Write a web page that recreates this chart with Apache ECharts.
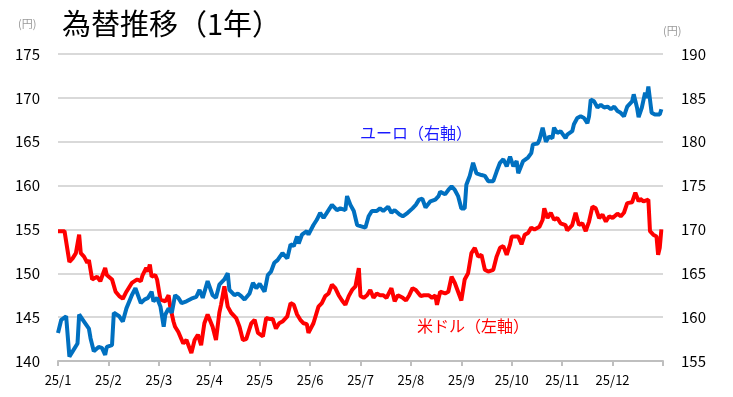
<!DOCTYPE html>
<html>
<head>
<meta charset="utf-8">
<script src="https://cdn.jsdelivr.net/npm/echarts@6/dist/echarts.min.js"></script>
<style>
  html, body { margin: 0; padding: 0; background: #fff; }
  #chart { width: 733px; height: 397px; }
</style>
</head>
<body>
<div id="chart"></div>
<script>
// 2025年 月/日
var monthLabels = ['25/1', '25/2', '25/3', '25/4', '25/5', '25/6', '25/7', '25/8', '25/9', '25/10', '25/11', '25/12']

// 米ドル（左軸）
var usdDates = [
  '1/1', '1/5', '1/8', '1/10', '1/12', '1/14', '1/15', '1/17', '1/19', '1/20', '1/22', '1/23', '1/25', '1/27', '1/30', '1/31',
  '2/3', '2/5', '2/7', '2/9', '2/11', '2/14', '2/17', '2/19', '2/20', '2/22', '2/23', '2/24', '2/25', '2/27', '2/28',
  '3/2', '3/5', '3/7', '3/8', '3/10', '3/11', '3/13', '3/16', '3/18', '3/21', '3/23', '3/25', '3/27', '3/29', '3/31',
  '4/3', '4/5', '4/7', '4/8', '4/10', '4/12', '4/14', '4/17', '4/19', '4/21', '4/23', '4/26', '4/28', '4/30',
  '5/3', '5/5', '5/7', '5/9', '5/11', '5/13', '5/15', '5/18', '5/20', '5/22', '5/24', '5/26', '5/28', '5/30', '5/31',
  '6/3', '6/6', '6/8', '6/10', '6/12', '6/14', '6/16', '6/18', '6/20', '6/22', '6/24', '6/26', '6/28', '6/30',
  '7/1', '7/3', '7/5', '7/7', '7/9', '7/11', '7/13', '7/15', '7/17', '7/20', '7/22', '7/24', '7/27', '7/29', '7/31',
  '8/2', '8/4', '8/7', '8/9', '8/12', '8/14', '8/16', '8/17', '8/19', '8/22', '8/24', '8/26', '8/28', '8/30',
  '9/1', '9/3', '9/5', '9/7', '9/9', '9/11', '9/13', '9/15', '9/17', '9/20', '9/22', '9/24', '9/26', '9/28', '9/30',
  '10/1', '10/3', '10/5', '10/7', '10/9', '10/11', '10/13', '10/15', '10/18', '10/20', '10/21', '10/23', '10/25', '10/27', '10/29', '10/31',
  '11/3', '11/4', '11/7', '11/9', '11/11', '11/13', '11/15', '11/17', '11/19', '11/21', '11/23', '11/25', '11/27', '11/29',
  '12/1', '12/4', '12/6', '12/8', '12/10', '12/13', '12/15', '12/17', '12/18', '12/20', '12/23', '12/24', '12/26', '12/28', '12/29', '12/30', '12/31'
]
var usdValues = [
  154.8, 154.8, 151.3, 151.7, 152.3, 154.4, 152.3, 151.9, 151.2, 151.5, 149.3, 149.1, 149.6, 149.1, 150.6, 149.8,
  149.3, 147.9, 147.4, 147.1, 147.9, 148.9, 149.3, 149.1, 149.8, 150.6, 150.2, 151.0, 149.6, 149.8, 149.3,
  147.0, 146.8, 147.5, 146.2, 144.5, 143.9, 143.3, 142.0, 142.4, 140.9, 142.4, 143.0, 141.8, 144.3, 145.3,
  143.9, 142.4, 145.5, 146.4, 148.5, 146.2, 145.5, 144.9, 143.9, 142.4, 142.5, 144.3, 144.7, 143.2,
  142.8, 144.9, 144.8, 144.8, 143.7, 144.3, 144.5, 145.1, 146.6, 146.4, 145.3, 144.7, 144.3, 144.2, 143.2,
  144.3, 146.2, 146.6, 147.4, 147.7, 148.7, 148.3, 147.5, 146.9, 146.4, 147.4, 148.1, 148.5, 150.6,
  147.4, 147.2, 147.5, 148.1, 147.2, 147.7, 147.5, 147.5, 147.2, 148.3, 146.8, 147.5, 147.2, 146.9, 147.5,
  148.3, 148.1, 147.4, 147.5, 147.5, 147.2, 147.5, 146.4, 147.9, 147.7, 147.9, 149.6, 148.9, 147.9,
  146.9, 149.3, 150.0, 152.3, 152.9, 151.9, 152.1, 150.4, 150.2, 150.4, 151.9, 152.9, 153.1, 152.1, 153.3,
  154.2, 154.2, 154.2, 153.3, 154.4, 154.6, 155.2, 155.0, 155.3, 156.1, 157.4, 156.3, 156.9, 156.1, 156.3, 155.7,
  155.5, 154.9, 155.5, 156.9, 155.5, 155.7, 154.8, 155.9, 157.6, 157.4, 156.3, 156.7, 155.9, 156.5,
  156.3, 156.8, 156.5, 156.9, 158.0, 158.1, 159.2, 158.2, 158.5, 158.2, 158.4, 154.8, 154.4, 154.2, 152.1, 152.9, 155.0
]

// ユーロ（右軸）
var eurDates = [
  '1/1', '1/3', '1/6', '1/8', '1/10', '1/13', '1/14', '1/17', '1/20', '1/21', '1/23', '1/26', '1/28', '1/30', '1/31',
  '2/3', '2/4', '2/7', '2/9', '2/11', '2/12', '2/14', '2/16', '2/19', '2/21', '2/23', '2/25', '2/26', '2/28',
  '3/2', '3/4', '3/5', '3/7', '3/9', '3/11', '3/13', '3/15', '3/18', '3/21', '3/24', '3/26', '3/28', '3/29', '3/31',
  '4/3', '4/5', '4/7', '4/10', '4/12', '4/13', '4/16', '4/18', '4/20', '4/22', '4/25', '4/27', '4/29',
  '5/1', '5/4', '5/6', '5/8', '5/10', '5/12', '5/15', '5/18', '5/20', '5/22', '5/24', '5/25', '5/27', '5/30', '5/31',
  '6/3', '6/5', '6/7', '6/9', '6/12', '6/14', '6/17', '6/19', '6/22', '6/23', '6/25', '6/27', '6/29', '6/30',
  '7/4', '7/6', '7/8', '7/11', '7/13', '7/15', '7/18', '7/20', '7/22', '7/25', '7/27', '7/30',
  '8/2', '8/4', '8/6', '8/8', '8/10', '8/13', '8/16', '8/18', '8/19', '8/22', '8/24', '8/26', '8/28', '8/30',
  '9/1', '9/3', '9/4', '9/6', '9/8', '9/10', '9/13', '9/15', '9/17', '9/20', '9/22', '9/24', '9/26', '9/28', '9/30',
  '10/2', '10/4', '10/5', '10/8', '10/11', '10/13', '10/14', '10/17', '10/18', '10/20', '10/22', '10/24', '10/26', '10/27', '10/29', '10/31',
  '11/3', '11/4', '11/7', '11/8', '11/10', '11/12', '11/14', '11/16', '11/17', '11/18', '11/20', '11/22', '11/24', '11/26', '11/28', '11/30',
  '12/2', '12/4', '12/6', '12/8', '12/10', '12/13', '12/14', '12/16', '12/17', '12/19', '12/21', '12/22', '12/23', '12/25', '12/27', '12/28', '12/30', '12/31'
]
var eurValues = [
  158.2, 159.7, 160.1, 155.5, 156.1, 157.0, 160.3, 159.5, 158.7, 157.6, 156.1, 156.6, 156.5, 155.7, 156.6,
  156.8, 160.5, 160.1, 159.5, 161.0, 161.2, 162.5, 163.3, 161.6, 162.0, 162.2, 162.9, 161.8, 162.2,
  161.2, 158.9, 160.3, 161.0, 160.5, 162.5, 162.2, 161.6, 161.8, 162.1, 162.3, 163.1, 162.2, 162.4, 164.1,
  162.5, 162.2, 163.7, 164.3, 165.0, 163.1, 162.5, 162.7, 162.4, 162.0, 162.7, 163.9, 163.3,
  163.8, 162.9, 164.8, 165.2, 166.2, 166.5, 167.3, 166.7, 168.3, 168.1, 169.2, 168.4, 169.4, 169.8, 169.4,
  170.5, 171.1, 171.9, 171.3, 172.2, 172.8, 172.2, 172.4, 172.2, 173.8, 172.8, 172.1, 170.5, 170.5,
  170.2, 171.5, 172.1, 172.1, 172.4, 172.1, 172.6, 171.9, 172.2, 171.7, 171.5, 171.9,
  172.4, 172.8, 173.4, 173.5, 172.5, 173.2, 173.4, 173.8, 174.3, 174.0, 174.5, 174.9, 174.5, 173.8,
  172.4, 172.4, 175.1, 176.1, 177.6, 176.4, 176.2, 176.1, 175.5, 175.5, 176.6, 177.6, 178.0, 177.2, 178.3,
  177.2, 177.8, 176.4, 177.8, 178.2, 178.7, 179.7, 179.8, 180.2, 181.6, 180.0, 180.6, 180.4, 181.6, 181.0, 181.2,
  180.4, 180.8, 181.2, 182.0, 182.7, 182.9, 182.7, 182.1, 182.9, 184.8, 184.6, 183.9, 184.2, 183.9, 184.0, 183.7,
  184.0, 183.5, 183.3, 182.9, 184.0, 184.6, 185.4, 183.9, 182.8, 183.9, 185.6, 185.0, 186.3, 183.3, 183.1, 183.3, 183.1, 183.7
]

var FONT = 'Noto Sans CJK JP'

// '3/15' -> 月単位の位置 (1月1日 = 0)
function monthPos (d) {
  var p = d.split('/')
  var m = +p[0], day = +p[1]
  var dim = new Date(2025, m, 0).getDate()
  return (m - 1) + (day - 1) / dim
}

function toPoints (dates, values) {
  return dates.map(function (d, i) { return [monthPos(d), values[i]] })
}

var chart = echarts.init(document.getElementById('chart'))
chart.setOption({
  animation: false,
  backgroundColor: '#fff',
  title: {
    text: '為替推移（1年）',
    left: 57,
    top: 4,
    textStyle: { fontFamily: FONT, fontSize: 29, fontWeight: 'normal', color: '#000' }
  },
  grid: { left: 58, right: 70, top: 54, bottom: 36, outerBoundsMode: 'none' },
  xAxis: {
    type: 'value',
    min: 0,
    max: 12,
    interval: 1,
    splitLine: { show: false },
    axisLine: { lineStyle: { color: '#bfbfbf', width: 2 } },
    axisTick: { length: 5, lineStyle: { color: '#bfbfbf', width: 2 } },
    axisLabel: {
      margin: 13,
      fontFamily: FONT,
      fontSize: 13,
      color: '#000',
      formatter: function (v) { return monthLabels[v] || '' }
    }
  },
  yAxis: [
    {
      type: 'value',
      min: 140,
      max: 175,
      interval: 5,
      axisLine: { show: false },
      axisTick: { show: false },
      splitLine: { lineStyle: { color: '#d9d9d9', width: 2 } },
      axisLabel: { margin: 18, fontFamily: FONT, fontSize: 15, color: '#000' }
    },
    {
      type: 'value',
      min: 155,
      max: 190,
      interval: 5,
      axisLine: { show: false },
      axisTick: { show: false },
      splitLine: { show: false },
      axisLabel: { margin: 18, fontFamily: FONT, fontSize: 15, color: '#000' }
    }
  ],
  series: [
    {
      name: '米ドル',
      type: 'line',
      yAxisIndex: 0,
      showSymbol: false,
      lineStyle: { color: '#ff0000', width: 4 },
      itemStyle: { color: '#ff0000' },
      data: toPoints(usdDates, usdValues)
    },
    {
      name: 'ユーロ',
      type: 'line',
      yAxisIndex: 1,
      showSymbol: false,
      lineStyle: { color: '#0070c0', width: 4 },
      itemStyle: { color: '#0070c0' },
      data: toPoints(eurDates, eurValues)
    }
  ],
  graphic: [
    { type: 'text', left: 18, top: 18, style: { text: '(円)', fontFamily: FONT, fontSize: 11, fill: '#999' } },
    { type: 'text', left: 663, top: 25, style: { text: '(円)', fontFamily: FONT, fontSize: 11, fill: '#999' } },
    { type: 'text', left: 360, top: 125, style: { text: 'ユーロ（右軸）', fontFamily: FONT, fontSize: 16, fill: '#1a1aff' } },
    { type: 'text', left: 417, top: 318, style: { text: '米ドル（左軸）', fontFamily: FONT, fontSize: 16, fill: '#ff0000' } }
  ]
})
</script>
</body>
</html>
